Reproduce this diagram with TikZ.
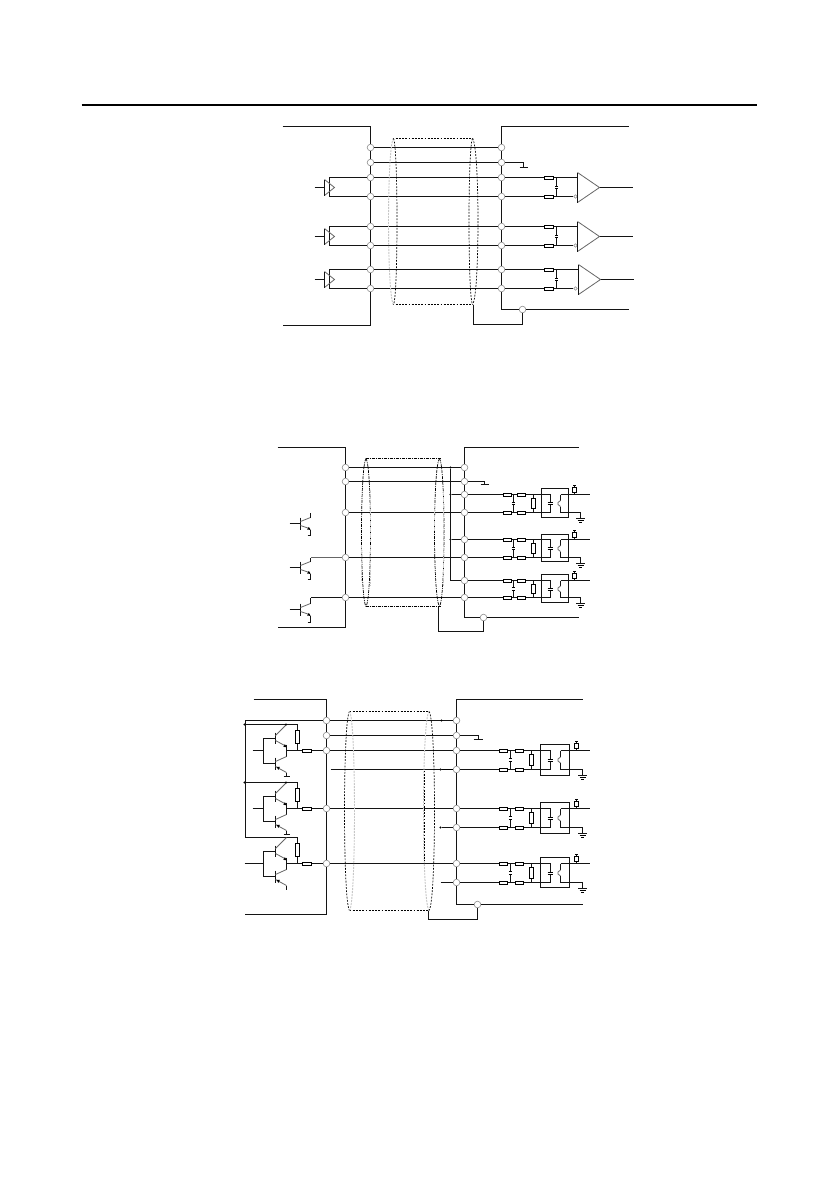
\documentclass[tikz,border=0pt]{standalone}
\tikzset{
  wire/.style={line width=1pt,black!92,line join=miter},
  thin wire/.style={line width=0.75pt,black},
  soft/.style={line width=0.8pt,black!60},
  term/.style={circle,draw=black!45,line width=0.6pt,minimum size=6.6pt,inner sep=0pt},
  minor/.style={circle,draw=black!45,line width=0.5pt,minimum size=3.6pt,inner sep=0pt},
  part/.style={draw=black,fill=white,line width=0.8pt},
  dotmark/.style={circle,fill=black,minimum size=2.4pt,inner sep=0pt},
  sh1/.style={line width=0.7pt,black,dash pattern=on 1.8pt off 1.4pt},
  sh2/.style={line width=0.7pt,black,dash pattern=on 3pt off 1pt on 1pt off 1pt},
  shg/.style={line width=0.9pt,black!22,dash pattern=on 2pt off 1pt},
  pics/hres/.style={code={\draw[part] (-4.3,-1.4) rectangle (4.3,1.4);}},
  pics/vres/.style args={#1/#2}{code={\draw[part] (-1.7,#1) rectangle (1.7,#2);}},
  pics/drv/.style={code={
    \draw[soft] (0,-8) -- (10,0) -- (0,8);
    \draw[wire] (0,-8) -- (0,8);
    \draw[wire] (-10,0) -- (0,0);}},
  pics/cmp/.style={code={
    \draw[soft] (0,-15) -- (22,0) -- (0,15);
    \draw[wire] (0,-15) -- (0,15);
    \draw[wire] (22,0) -- (55,0);}},
  pics/bjtA/.style args={#1/#2}{code={
    \draw[wire] (0,-6) -- (0,6);
    \draw[wire] (-11,0) -- (0,0);
    \draw[soft] (0,-2) -- (10,-6);
    \draw[wire] (10,-6) -- (10,#1);
    \draw[soft] (0,2) -- (9,5);
    \fill (10,6.4) -- (6.6,6.0) -- (8.4,3.4) -- cycle;
    \draw[wire] (10,6) -- (10,#2);
    \draw[wire] (7,#2) -- (10,#2);}},
  pics/bjtB/.style={code={
    \draw[wire] (0,-18) -- (0,-7);
    \draw[wire] (0,7) -- (0,19);
    \draw[wire] (0,-12.5) -- (-12,-12.5) -- (-12,13) -- (0,13);
    \draw[soft] (0,-15) -- (11,-26);
    \draw[soft] (0,-10) -- (11,-4);
    \fill (11,-3.4) -- (7.8,-3.6) -- (9.4,-6.4) -- cycle;
    \draw[wire] (11,-6) -- (11,6);
    \draw[soft] (11,6) -- (0,11);
    \draw[soft] (0,16) -- (11,22);
    \fill (1.2,16.4) -- (4.4,16.4) -- (2.8,19.4) -- cycle;
    \draw[wire] (11,22) -- (11,26);}},
}
% half of a shield ellipse: style, centre x, signed half width, top, bottom
\newcommand{\shieldend}[5]{%
  \draw[#1] (#2,#4) .. controls ({#2+1.33*#3},{#4+8}) and ({#2+1.33*#3},{#5-8}) .. (#2,#5);}
% opto-coupler row: y1, y2, box top, box bottom, upper terminal, lower terminal
\newcommand{\optorow}[6]{%
  \draw[wire] (#5) -- (\Xin,#1) -- (\Xin,{(#1+#2)/2-1});
  \draw[wire] (#6) -- (\Xin,#2) -- (\Xin,{(#1+#2)/2+1});
  \draw[thin wire] ({\Xin-2.8},{(#1+#2)/2-1}) -- ({\Xin+2.8},{(#1+#2)/2-1});
  \draw[thin wire] ({\Xin-2.8},{(#1+#2)/2+1}) -- ({\Xin+2.8},{(#1+#2)/2+1});
  \draw[wire] (\Xcap,#1) -- (\Xcap,{(#1+#2)/2-1.3});
  \draw[wire] (\Xcap,#2) -- (\Xcap,{(#1+#2)/2+1.3});
  \draw[thin wire] ({\Xcap-1.6},{(#1+#2)/2-1.3}) -- ({\Xcap+1.6},{(#1+#2)/2-1.3});
  \draw[thin wire] ({\Xcap-1.6},{(#1+#2)/2+1.3}) -- ({\Xcap+1.6},{(#1+#2)/2+1.3});
  \draw[wire] (\Xv,#1) -- (\Xv,#2);
  \draw[part] ({\Xv-1.7},{#1+(#2-#1)*0.22}) rectangle ({\Xv+1.7},{#1+(#2-#1)*0.78});
  \pic at (\Xra,#1) {hres}; \pic at (\Xra,#2) {hres};
  \pic at (\Xrb,#1) {hres}; \pic at (\Xrb,#2) {hres};
  \draw[wire] (\Xbl,#3) rectangle (\Xbr,#4);
  \draw[wire] (\Xo,#1) -- (\Xout,#1);
  \draw[wire] (\Xtop,#1) -- (\Xtop,{#1-9});
  \draw[thin wire] ({\Xtop-1.5},{#1-9}) -- ({\Xtop+1.5},{#1-9});
  \pic at (\Xtop,#1) {vres={-7.5/-2}};
  \draw[wire] (\Xo,#1) -- (\Xo,{(#1+#2)/2-3});
  \draw[soft] (\Xo,{(#1+#2)/2-3}) -- ({\Xo-2.5},{(#1+#2)/2-1}) -- ({\Xo-2.5},{(#1+#2)/2+1}) -- (\Xo,{(#1+#2)/2+3});
  \draw[wire] (\Xo,{(#1+#2)/2+3}) -- (\Xo,#2) -- (\Xg,#2) -- (\Xg,{#2+6});
  \draw[wire] ({\Xg-4.5},{#2+6}) -- ({\Xg+4.5},{#2+6});
  \draw[thin wire] ({\Xg-3},{#2+8}) -- ({\Xg+3},{#2+8});
  \draw[thin wire] ({\Xg-1.5},{#2+10}) -- ({\Xg+1.5},{#2+10});
}
\begin{document}
\begin{tikzpicture}[x=1pt,y=-1pt]
\useasboundingbox (0,0) rectangle (839,1191);
\fill[white] (0,0) rectangle (839,1191);
\begin{scope}[shift={(-0.5,0.5)}]
\coordinate (HL) at (82,104.5); \coordinate (HR) at (757,104.5);
\draw[line width=2pt] (HL) -- (HR);

%% ---------- Diagram 1 ----------
\foreach \n/\y in {1/147,2/162,3/177,4/196,5/226,6/245,7/269,8/288}{
  \node[term] (AL\n) at (371,\y) {};
  \node[term] (AR\n) at (502,\y) {};
  \draw[wire] (AL\n) -- (AR\n);
}
\coordinate (ALt0) at (283,126); \coordinate (ALt) at (371,126);
\coordinate (ALb0) at (283,325); \coordinate (ALb) at (371,325);
\coordinate (ARt0) at (629,126); \coordinate (ARt) at (502,126);
\coordinate (ARb) at (502,309); \coordinate (ARe) at (629,309);
\node[term] (AS) at (523,309) {};
\draw[wire] (ALt0) -- (ALt) -- (AL1) -- (AL2) -- (AL3) -- (AL4) -- (AL5) -- (AL6) -- (AL7) -- (AL8) -- (ALb) -- (ALb0);
\draw[wire] (ARt0) -- (ARt) -- (AR1) -- (AR2) -- (AR3) -- (AR4) -- (AR5) -- (AR6) -- (AR7) -- (AR8) -- (ARb) -- (AS) -- (ARe);
\draw[wire] (AS) -- (523,324) -- (474,324) -- (474,304);
\draw[wire] (AR2) -- (524,162) -- (524,167);
\draw[wire] (520,167) -- (528,167);
% shield
\draw[sh1] (393,138) -- (473,138);
\draw[sh1] (393,304) -- (473,304);
\shieldend{shg}{394}{-5}{138}{304}
\shieldend{sh1}{394}{3.5}{138}{304}
\shieldend{sh1}{473}{-3.5}{138}{304}
\shieldend{sh1}{473}{5.5}{138}{304}
% drivers
\foreach \a/\b/\m in {3/4/187,5/6/236,7/8/279}{
  \draw[wire] (AL\a) -| (330,\m);
  \draw[wire] (AL\b) -| (330,\m);
  \pic at (325,\m) {drv};
}
% receivers
\foreach \a/\b/\ya/\yb/\m/\xc in {3/4/177/196/187/578,5/6/226/245/236/578,7/8/269/288/279/579}{
  \node[minor] (Am\a) at (576,\yb) {};
  \draw[wire] (AR\a) -- (\xc,\ya);
  \draw[wire] (AR\b) -- (Am\a);
  \draw[wire] (557,\ya) -- (557,\m-1);
  \draw[wire] (557,\yb) -- (557,\m+1);
  \draw[thin wire] (555.5,\m-1) -- (558.5,\m-1);
  \draw[thin wire] (555.5,\m+1) -- (558.5,\m+1);
  \pic at (549.5,\ya) {hres};
  \pic at (549.5,\yb) {hres};
  \pic at (\xc,\m) {cmp};
}

%% ---------- Diagram 2 ----------
\foreach \n/\y in {1/467,2/481,3/512,4/557,5/597}{ \node[term] (BL\n) at (346,\y) {}; }
\foreach \n/\y in {1/467,2/481,3/494,4/512,5/539,6/557,7/580,8/597}{ \node[term] (BR\n) at (465,\y) {}; }
\foreach \a/\b in {1/1,2/2,3/4,4/6,5/8}{ \draw[wire] (BL\a) -- (BR\b); }
\draw[wire] (278,447) -- (346,447) -- (BL1) -- (BL2) -- (BL3) -- (BL4) -- (BL5) -- (346,627) -- (278,627);
\node[term] (BS) at (484,617) {};
\draw[wire] (579,447) -- (465,447) -- (BR1) -- (BR2) -- (BR3) -- (BR4) -- (BR5) -- (BR6) -- (BR7) -- (BR8) -- (465,617) -- (BS) -- (579,617);
\draw[wire] (BS) -- (484,631) -- (439,631) -- (439,606);
\draw[wire] (BR2) -- (485,481) -- (485,484);
\draw[wire] (481,484) -- (489,484);
\node[dotmark] (Bd1) at (451,467) {};
\node[dotmark] (Bd2) at (451,494) {};
\node[dotmark] (Bd3) at (451,539) {};
\draw[wire] (Bd1) -- (451,580) -- (BR7);
\draw[wire] (Bd2) -- (BR3);
\draw[wire] (Bd3) -- (BR5);
% shield
\draw[sh2] (366,458) -- (441,458);
\draw[sh2] (366,606) -- (441,606);
\shieldend{sh2}{366.5}{-4.5}{458}{606}
\shieldend{sh2}{366.5}{4.5}{458}{606}
\shieldend{sh2}{440}{-5}{458}{606}
\shieldend{sh2}{440}{4.5}{458}{606}
\draw[shg] (362,545) -- (362,580);
\draw[shg] (371,490) -- (371,540);
\draw[shg] (371,545) -- (371,585);
\draw[shg] (435,505) -- (435,530);
\draw[shg] (444,490) -- (444,585);
% transistors
\pic at (301,523) {bjtA={-11/12}};
\pic at (301,567) {bjtA={-10/12}};
\pic at (301,609) {bjtA={-12/13}};
\draw[soft] (311,557) -- (BL4);
\draw[wire] (311,597) -- (BL5);
% opto rows
\def\Xra{508}\def\Xrb{522}\def\Xcap{514}\def\Xv{534}\def\Xbl{542}\def\Xbr{569}
\def\Xin{551}\def\Xo{561}\def\Xtop{575}\def\Xg{581}\def\Xout{590}
\optorow{494}{512}{488}{517}{BR3}{BR4}
\optorow{539}{557}{534}{561}{BR5}{BR6}
\optorow{580}{597}{574}{602}{BR7}{BR8}

%% ---------- Diagram 3 ----------
\foreach \n/\y in {1/720,2/735,3/750,4/808,5/863}{ \node[term] (CL\n) at (327,\y) {}; }
\foreach \n/\y in {1/720,2/735,3/750,4/769,5/808,6/827,7/863,8/882}{ \node[term] (CR\n) at (457,\y) {}; }
\foreach \a/\b in {1/1,2/2,3/3,4/5,5/7}{ \draw[wire] (CL\a) -- (CR\b); }
\draw[wire] (254,699) -- (327,699) -- (CL1) -- (CL2) -- (CL3) -- (CL4) -- (CL5) -- (327,914) -- (245,914);
\node[term] (CS) at (478,904) {};
\draw[wire] (583,699) -- (457,699) -- (CR1) -- (CR2) -- (CR3) -- (CR4) -- (CR5) -- (CR6) -- (CR7) -- (CR8) -- (457,904) -- (CS) -- (583,904);
\draw[wire] (CS) -- (478,919) -- (429,919) -- (429,910);
\draw[wire] (CR2) -- (479,735) -- (479,739);
\draw[wire] (474,739) -- (483,739);
\node[dotmark] (Cd1) at (442,720) {};
\node[dotmark] (Cd2) at (441,769) {};
\node[dotmark] (Cd3) at (441,827) {};
\coordinate (Cs4) at (331,769); \coordinate (Cs8) at (441,882);
\draw[wire] (Cs4) -- (CR4);
\draw[line width=1.7pt] (Cd2) -- (CR4);
\draw[wire] (Cd3) -- (CR6);
\draw[wire] (Cs8) -- (CR8);
% shield
\draw[sh1] (350,711) -- (429,711);
\draw[sh1] (350,910) -- (429,910);
\shieldend{sh1}{350}{-5}{711}{910}
\shieldend{shg}{350}{5}{711}{910}
\shieldend{shg}{429.5}{-5.5}{711}{910}
\shieldend{sh1}{429.5}{5.5}{711}{910}
\draw[sh1] (425,770) -- (425,860);
% supply rails
\node[dotmark] (Cr1) at (245,724) {};
\node[dotmark] (Cr2) at (245,782) {};
\draw[wire] (CL1) -- (246,720) -- (246,837) -- (298,837) -- (298,863);
\draw[wire] (Cr1) -- (298,724) -- (298,750);
\draw[wire] (Cr2) -- (298,782) -- (298,808);
\foreach \n/\yc/\xs in {1/750/253,2/808/253,3/863/245}{
  \pic at (276,\yc) {bjtB};
  \coordinate (Ci\n) at (\xs,\yc);
  \draw[wire] (Ci\n) -- (264,\yc);
  \pic at (298,\yc) {vres={-20/-7}};
}
\node[dotmark] (Cc1) at (286.5,724) {};
\node[dotmark] (Cc2) at (286.5,782) {};
\draw[wire] (284,776) -- (290,776);
\draw[wire] (284,834) -- (290,834);
\draw[wire] (287,750) -- (CL3);
\draw[wire] (287,808) -- (CL4);
\draw[wire] (287,863) -- (CL5);
\draw[wire] (287,888) -- (287,885);
\pic at (307.5,750) {hres};
\pic at (307.5,808) {hres};
\pic at (307.5,863) {hres};
% opto rows
\def\Xra{504}\def\Xrb{520}\def\Xcap{511}\def\Xv{532}\def\Xbl{541}\def\Xbr{570}
\def\Xin{551}\def\Xo{561}\def\Xtop{577}\def\Xg{583}\def\Xout{590}
\optorow{750}{769}{744}{775}{CR3}{CR4}
\optorow{808}{827}{802}{833}{CR5}{CR6}
\optorow{863}{882}{857}{887}{CR7}{CR8}
\end{scope}
\end{tikzpicture}
\end{document}
